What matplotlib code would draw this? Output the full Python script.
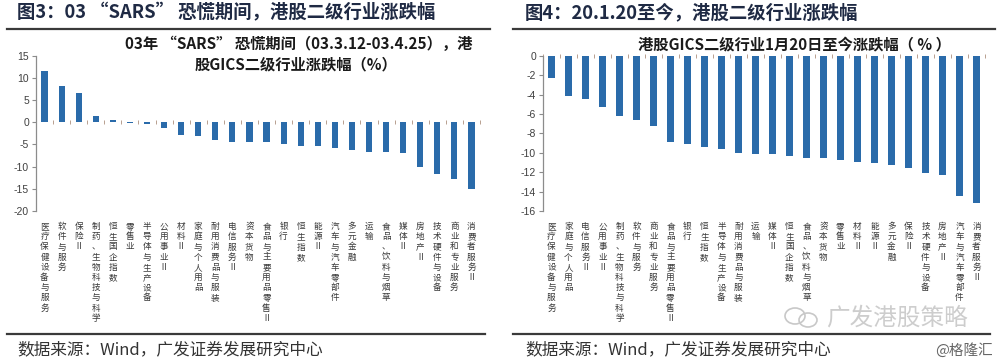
import matplotlib
matplotlib.use("Agg")
import matplotlib.pyplot as plt
import numpy as np
from matplotlib.patches import Ellipse

plt.rcParams['font.family'] = ['Noto Sans CJK SC', 'DejaVu Sans']

# ---------------- data ----------------
sars_labels = ["医疗保健设备与服务", "软件与服务", "保险Ⅱ", "制药、生物科技与科学", "恒生国企指数",
               "零售业", "半导体与生产设备", "公用事业Ⅱ", "材料Ⅱ", "家庭与个人用品",
               "耐用消费品与服装", "电信服务Ⅱ", "资本货物", "食品与主要用品零售Ⅱ", "银行",
               "恒生指数", "能源Ⅱ", "汽车与汽车零部件", "多元金融", "运输",
               "食品、饮料与烟草", "媒体Ⅱ", "房地产Ⅱ", "技术硬件与设备", "商业和专业服务",
               "消费者服务Ⅱ"]
sars_values = [11.6, 8.2, 6.5, 1.3, 0.6, -0.1, -0.5, -1.4, -2.9, -3.2,
               -4.1, -4.4, -4.5, -4.5, -4.8, -5.3, -5.45, -5.9, -6.3, -6.6,
               -6.7, -7.0, -10.1, -11.7, -12.8, -15.0]

now_labels = ["医疗保健设备与服务", "家庭与个人用品", "电信服务Ⅱ", "公用事业Ⅱ", "制药、生物科技与科学",
              "软件与服务", "商业和专业服务", "食品与主要用品零售Ⅱ", "银行", "恒生指数",
              "半导体与生产设备", "耐用消费品与服装", "运输", "媒体Ⅱ", "恒生国企指数",
              "食品、饮料与烟草", "资本货物", "零售业", "材料Ⅱ", "能源Ⅱ",
              "多元金融", "保险Ⅱ", "技术硬件与设备", "房地产Ⅱ", "汽车与汽车零部件",
              "消费者服务Ⅱ"]
now_values = [-2.3, -4.2, -4.5, -5.3, -6.25, -6.6, -7.2, -8.9, -9.1, -9.4,
              -9.6, -10.0, -10.1, -10.1, -10.3, -10.5, -10.55, -10.7, -11.0, -11.1,
              -11.3, -11.6, -12.1, -12.3, -14.5, -15.2]

sars_yticks = [15, 10, 5, 0, -5, -10, -15, -20]
now_yticks = [0, -2, -4, -6, -8, -10, -12, -14, -16]

fig_title_left = "图3：03 “SARS” 恐慌期间，港股二级行业涨跌幅"
fig_title_right = "图4：20.1.20至今，港股二级行业涨跌幅"
chart_title_left = ["03年 “SARS” 恐慌期间（03.3.12-03.4.25），港", "股GICS二级行业涨跌幅（%）"]
chart_title_right = "港股GICS二级行业1月20日至今涨跌幅（ % ）"
source_text = "数据来源：Wind，广发证券发展研究中心"

# ---------------- style ----------------
W, H = 1000, 364
BAR = '#2A6BAA'
GRAY = '#8C8C8C'
TXT = '#404040'
TITLE_C = '#1F2A44'

fig = plt.figure(figsize=(W / 100, H / 100), dpi=100)


def fx(px):
    return px / W


def fy(py):
    return 1 - py / H


def make_panel(rect, labels, values, ylim, yticks):
    ax = fig.add_axes(rect)
    x = np.arange(len(labels))
    ax.bar(x, values, width=0.36, color=BAR, zorder=3)
    ax.set_xlim(-0.5, len(labels) - 0.5)
    ax.set_ylim(*ylim)
    ax.set_yticks(yticks)
    ax.set_yticklabels([str(t) for t in yticks], family='Liberation Sans', fontsize=7.5, color=TXT)
    ax.tick_params(axis='y', direction='out', length=3, width=0.8, color=GRAY, pad=2)
    ax.set_xticks(x)
    ax.set_xticklabels(['\n'.join(list(l)) for l in labels], fontsize=6.2, color='#383838',
                       linespacing=1.17, va='top')
    ax.tick_params(axis='x', length=0, pad=8)
    for s in ['top', 'right', 'bottom']:
        ax.spines[s].set_visible(False)
    ax.spines['left'].set_color(GRAY)
    ax.spines['left'].set_linewidth(0.9)
    # zero axis with category separators
    frac = (0 - ylim[0]) / (ylim[1] - ylim[0])
    sec = ax.secondary_xaxis(frac)
    sec.set_xticks(np.arange(-0.5, len(labels), 1.0))
    sec.tick_params(axis='x', direction='inout', length=3, width=0.7, color='#B8A090',
                    labelbottom=False, labeltop=False)
    sec.spines['bottom'].set_color('#A8A8A8')
    sec.spines['bottom'].set_linewidth(0.9)
    sec.spines['top'].set_visible(False)
    return ax


ax1 = make_panel([fx(36), fy(211), fx(480 - 36), fy(55.7) - fy(211)],
                 sars_labels, sars_values, (-20, 15), sars_yticks)
ax2 = make_panel([fx(543), fy(211), fx(985 - 543), fy(55.7) - fy(211)],
                 now_labels, now_values, (-16, 0), now_yticks)

# ---------------- figure titles and rules ----------------
fig.text(fx(17), fy(13), fig_title_left, fontsize=13.2, fontweight='bold', color=TITLE_C,
         ha='left', va='center')
fig.text(fx(525), fy(13), fig_title_right, fontsize=13.2, fontweight='bold', color=TITLE_C,
         ha='left', va='center')

for (x0, x1) in [(7, 490), (513, 995)]:
    fig.add_artist(plt.Line2D([fx(x0), fx(x1)], [fy(28.5), fy(28.5)], color='#3A3A3A', lw=1.6))
    fig.add_artist(plt.Line2D([fx(x0), fx(x1 - 5)], [fy(333.5), fy(333.5)], color='#3A3A3A', lw=1.6))

# chart titles
fig.text(fx(299), fy(44), chart_title_left[0], fontsize=11, fontweight='bold', color='#1A1A1A',
         ha='center', va='center')
fig.text(fx(296), fy(64), chart_title_left[1], fontsize=11, fontweight='bold', color='#1A1A1A',
         ha='center', va='center')
fig.text(fx(794), fy(44), chart_title_right, fontsize=11, fontweight='bold', color='#1A1A1A',
         ha='center', va='center')

# sources
fig.text(fx(17), fy(350), source_text, fontsize=12, color='#333333', ha='left', va='center')
fig.text(fx(525), fy(350), source_text, fontsize=12, color='#333333', ha='left', va='center')
fig.text(fx(993), fy(350), "@格隆汇", fontsize=10.5, color='#666666', ha='right', va='center')

# watermark
fig.text(fx(968), fy(318), "广发港股策略", fontsize=17, color='#C8C8C8', ha='right', va='center',
         alpha=0.9)
fig.add_artist(Ellipse((fx(795), fy(316)), fx(20), fy(0) - fy(16), fill=False, ec='#C8C8C8', lw=1.2))
fig.add_artist(Ellipse((fx(808), fy(320)), fx(18), fy(0) - fy(14), fill=False, ec='#C8C8C8', lw=1.2))

fig.savefig("out.png", dpi=100)
